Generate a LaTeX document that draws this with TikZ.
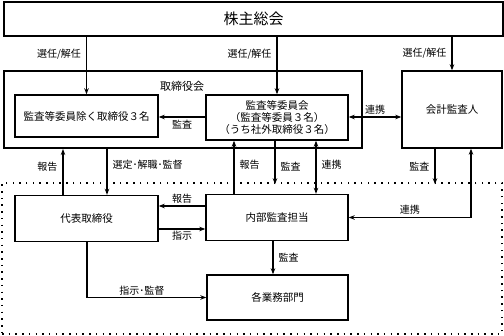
\documentclass[tikz,border=0pt]{standalone}
\usepackage{fontspec}
\setmainfont{Noto Sans CJK JP}
\usepackage{tikz}
\usetikzlibrary{arrows.meta,calc,positioning}
\tikzset{
  font=\fontsize{10.5}{11.8}\selectfont,
  flow/.style={-{Stealth[length=6pt,width=4.5pt]},line width=1.1pt,draw=black},
  both/.style={{Stealth[length=6pt,width=4.5pt]}-{Stealth[length=6pt,width=4.5pt]},line width=1.1pt,draw=black},
  box/.style={draw=black,line width=1.4pt,fill=white,align=center,inner sep=0pt},
  frame/.style={draw=black,line width=2pt,inner sep=0pt},
  group/.style={draw=black,line width=1.5pt,dash pattern=on 1.5pt off 5.2pt,inner sep=0pt},
  tag/.style={font=\fontsize{10}{11}\selectfont,inner sep=1pt}
}
\begin{document}
\begin{tikzpicture}[x=1pt,y=-1pt]
\useasboundingbox (0,0) rectangle (504,336);
% outer frames
\node[group,minimum width=500pt,minimum height=151pt] (grp) at (252,258.5) {};
\node[frame,minimum width=358pt,minimum height=77pt] (board) at (183,109.5) {};
\node[font=\fontsize{11}{13}\selectfont] (boardlbl) at (182,86.5) {取締役会};

% boxes
\node[box,minimum width=499pt,minimum height=34pt,font=\fontsize{15}{17}\selectfont] (gm) at (253.5,19) {株主総会};
\node[box,minimum width=143pt,minimum height=42pt] (dirs) at (86.5,116) {監査等委員除く取締役３名};
\node[box,minimum width=142pt,minimum height=45pt] (acb) at (277,117.5) {監査等委員会\\（監査等委員３名）\\（うち社外取締役３名）};
\node[box,minimum width=100pt,minimum height=77pt] (auditor) at (452,109.5) {会計監査人};
\node[box,minimum width=143pt,minimum height=46pt] (rep) at (86.5,218.5) {代表取締役};
\node[box,minimum width=142pt,minimum height=46pt] (audit) at (277,217.5) {内部監査担当};
\node[box,minimum width=141pt,minimum height=45pt] (depts) at (277.5,297.5) {各業務部門};

% columns and rows of the connectors
\coordinate (x63) at (63,0);   \coordinate (x107) at (107,0);
\coordinate (x234) at (234,0); \coordinate (x277) at (277,0);
\coordinate (x275) at (275,0); \coordinate (x316) at (316,0);
\coordinate (x435) at (435,0); \coordinate (x471) at (471,0);
\coordinate (x273) at (273,0); \coordinate (x87) at (87,0);
\coordinate (y117) at (0,117); \coordinate (y207) at (0,206); \coordinate (y229) at (0,229);

% election
\draw[flow] (gm.south -| dirs.north) -- node[tag,pos=.3,left=4pt]{選任/解任} (dirs.north);
\draw[flow] (gm.south -| x277) -- node[tag,pos=.3,left=4pt]{選任/解任} (acb.north -| x277);
\draw[flow] (gm.south -| auditor.north) -- node[tag,pos=.5,left=4pt]{選任/解任} (auditor.north);

% inside the board
\draw[flow] (acb.west |- y117) -- node[tag,below=2pt]{監査} (dirs.east |- y117);
\draw[both] (acb.east |- y117) -- node[tag,above=1pt]{連携} (auditor.west |- y117);

% board <-> execution
\draw[flow] (rep.north -| x63) -- node[tag,pos=.62,left=4pt]{報告} (board.south -| x63);
\draw[flow] (board.south -| x107) -- node[tag,pos=.35,right=4pt]{選定･解職･監督} (rep.north -| x107);
\draw[flow] (audit.north -| x234) -- node[tag,pos=.55,right=4pt]{報告} (acb.south -| x234);
\draw[flow] (acb.south -| x275) -- node[tag,pos=.6,right=4pt]{監査} ([yshift=-2pt]grp.north -| x275);
\draw[both] (acb.south -| x316) -- node[tag,pos=.45,right=4pt]{連携} (audit.north -| x316);
\draw[flow] (auditor.south -| x435) -- node[tag,pos=.5,left=4pt]{監査} ([yshift=-2pt]grp.north -| x435);
\draw[both] (auditor.south -| x471) |- node[tag,pos=.75,above=2pt]{連携} (audit.east);

% execution
\draw[flow] (audit.west |- y207) -- node[tag,above=1pt]{報告} (rep.east |- y207);
\draw[flow] (rep.east |- y229) -- node[tag,below=1pt]{指示} (audit.west |- y229);
\draw[flow] (audit.south -| x273) -- node[tag,right=4pt]{監査} (depts.north -| x273);
\draw[flow] (rep.south -| x87) |- node[tag,pos=.73,above=1pt]{指示･監督} (depts.west);
\end{tikzpicture}
\end{document}
